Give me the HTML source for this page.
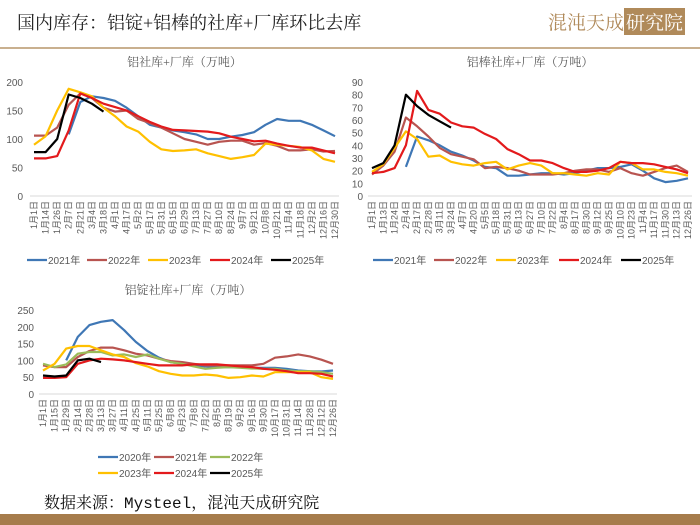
<!DOCTYPE html>
<html><head><meta charset="utf-8">
<style>
body{margin:0;width:700px;height:525px;overflow:hidden;background:#fff;font-family:"Liberation Sans","Noto Sans CJK SC",sans-serif;position:relative}
#title{position:absolute;left:17px;top:9px;font-size:18px;color:#222;font-family:"Liberation Serif","Noto Serif CJK SC",serif}
#hline{position:absolute;left:0;top:47px;width:700px;height:2px;background:#c9b08f}
#logo{position:absolute;left:548px;top:8px;font-size:19px;color:#b08a5a;font-family:"Noto Serif CJK SC",serif}
#logo span{background:#b08a5a;color:#fff;padding:0 2px}
#foot{position:absolute;left:44px;top:490px;font-size:16px;color:#111;font-family:"Liberation Mono","Noto Serif CJK SC",monospace}
#band{position:absolute;left:0;top:514px;width:700px;height:11px;background:#a67c4c}
svg{position:absolute;left:0;top:0}
</style></head><body>
<div id="title">国内库存：铝锭+铝棒的社库+厂库环比去库</div>
<div id="logo">混沌天成<span>研究院</span></div>
<div id="hline"></div>
<svg id="svg" width="700" height="525"></svg>
<div id="foot">数据来源：Mysteel，混沌天成研究院</div>
<div id="band"></div>
<script>
const c1Cats=["1月1日","1月14日","1月26日","2月7日","2月21日","3月4日","3月18日","4月1日","4月17日","5月2日","5月17日","5月31日","6月15日","6月29日","7月13日","7月27日","8月10日","8月24日","9月7日","9月21日","10月8日","10月21日","11月4日","11月18日","12月2日","12月16日","12月30日"];
const c1Ticks=[0,50,100,150,200];
const c1y2021=[null,null,null,108,165,175,172,167,155,140,125,120,115,112,108,100,100,104,107,112,125,135,132,132,125,115,105];
const c1y2022=[106,106,120,160,180,172,155,148,150,135,128,120,110,100,95,90,95,97,97,90,93,88,80,80,82,78,79];
const c1y2023=[90,105,150,188,182,175,155,140,122,113,95,82,79,80,82,75,70,65,68,72,92,90,88,86,80,65,60];
const c1y2024=[66,66,70,115,180,172,162,156,150,140,130,122,116,115,114,113,110,104,100,96,97,92,88,85,85,80,75];
const c1y2025=[77,77,100,178,172,162,148];

const c2Cats=["1月1日","1月13日","1月24日","2月4日","2月17日","2月28日","3月11日","3月24日","4月7日","4月20日","5月5日","5月18日","5月31日","6月13日","6月27日","7月10日","7月22日","8月4日","8月17日","8月30日","9月12日","9月25日","10月10日","10月23日","11月4日","11月17日","11月30日","12月13日","12月26日"];
const c2Ticks=[0,10,20,30,40,50,60,70,80,90];
const c2y2021=[null,null,null,23,47,44,40,35,32,28,23,22,16,16,17,18,18,17,18,20,22,22,23,25,20,14,11,12,14];
const c2y2022=[17,24,35,62,55,47,38,33,31,29,22,23,22,20,17,17,17,18,20,21,21,19,22,18,16,19,22,24,19];
const c2y2023=[19,25,38,51,45,31,32,27,25,24,26,27,21,24,26,24,18,18,17,16,18,17,27,26,21,21,19,18,16];
const c2y2024=[18,19,22,40,83,68,65,58,55,54,49,45,37,33,28,28,26,22,19,19,20,22,27,26,26,25,23,21,18];
const c2y2025=[22,26,40,80,71,64,59,54];

const c3Cats=["1月1日","1月15日","1月29日","2月14日","2月28日","3月13日","3月27日","4月11日","4月25日","5月11日","5月25日","6月8日","6月23日","7月8日","7月22日","8月5日","8月19日","9月2日","9月16日","9月30日","10月17日","10月31日","11月14日","11月28日","12月12日","12月26日"];
const c3Ticks=[0,50,100,150,200,250];
const c3y2020=[null,null,100,170,205,215,220,190,155,128,108,95,90,85,82,80,80,80,78,78,78,75,70,68,67,70];
const c3y2021=[85,80,80,110,128,138,138,130,120,115,105,98,95,90,85,85,85,85,85,90,108,112,118,112,102,90];
const c3y2022=[90,80,88,120,125,125,115,118,110,118,105,95,90,82,75,78,80,78,76,75,75,70,68,68,65,60];
const c3y2023=[70,90,135,143,143,130,118,110,92,82,68,60,55,55,58,55,48,50,55,52,65,65,65,65,50,45];
const c3y2024=[48,48,50,90,100,105,103,100,95,90,85,85,85,88,88,88,85,82,80,75,72,68,62,62,60,52];
const c3y2025=[55,52,55,100,105,95];

const COLA={"2021":"#3f77b5","2022":"#b85450","2023":"#ffc000","2024":"#e31a1c","2025":"#000"};
const COLB={"2020":"#3f77b5","2021":"#b85450","2022":"#9bbb59","2023":"#ffc000","2024":"#e31a1c","2025":"#000"};
const svg=document.getElementById('svg');
const NS="http://www.w3.org/2000/svg";
function mk(t,a,p){const e=document.createElementNS(NS,t);for(const k in a)e.setAttribute(k,a[k]);(p||svg).appendChild(e);return e;}

function chart(o){
  const COL=o.col;
  const g=mk('g',{});
  
  
  const max=o.ticks[o.ticks.length-1];
  const n=o.cats.length;
  const X=i=>o.x0+(o.x1-o.x0)*i/(n-1);
  const Y=v=>o.yb-(o.yb-o.yt)*v/max;
  const t=mk('text',{x:(o.x0+o.x1)/2,y:o.ty,'text-anchor':'middle','font-size':12,fill:'#595959','font-family':'"Liberation Serif","Noto Serif CJK SC",serif'},g);
  t.textContent=o.title;
  
  
  const ax=mk('line',{x1:o.x0-4,x2:o.x1+4,y1:Y(0),y2:Y(0),stroke:'#d9d9d9'},g);
  
  
  o.ticks.forEach(v=>{
    const e=mk('text',{x:o.lx,y:Y(v)+4,'text-anchor':'end','font-size':10,fill:'#595959'},g);
    e.textContent=v;
    
    
  });
  o.cats.forEach((c,i)=>{
    const e=mk('text',{x:0,y:0,'text-anchor':'end','font-size':9,fill:'#595959',transform:`translate(${X(i)+3},${Y(0)+5}) rotate(-90)`},g);
    e.textContent=c;
    
    
  });
  o.series.forEach(s=>{
    let d='';let pen=false;
    s.v.forEach((v,i)=>{if(v==null){pen=false;return;}d+=(pen?'L':'M')+X(i).toFixed(1)+','+Y(v).toFixed(1);pen=true;});
    const p=mk('path',{d:d,fill:'none',stroke:COL[s.k],'stroke-width':2.2,'stroke-linejoin':'round'},g);
    
    
  });
  o.legend.forEach(l=>{
    const lg=mk('g',{},g);
    
    
    mk('line',{x1:l.x,x2:l.x+20,y1:l.y,y2:l.y,stroke:COL[l.k],'stroke-width':2.2},lg);
    const e=mk('text',{x:l.x+21,y:l.y+4,'font-size':10,fill:'#595959'},lg);
    e.textContent=l.k+'年';
  });
}
chart({name:'chart-aluminum-total',col:COLA,title:'铝社库+厂库（万吨）',ty:66,x0:34,x1:335,yt:82,yb:196,lx:23,ticks:c1Ticks,cats:c1Cats,
 series:[{k:'2021',v:c1y2021},{k:'2022',v:c1y2022},{k:'2023',v:c1y2023},{k:'2024',v:c1y2024},{k:'2025',v:c1y2025}],
 legend:[{k:'2021',x:27,y:260},{k:'2022',x:87,y:260},{k:'2023',x:148,y:260},{k:'2024',x:210,y:260},{k:'2025',x:271,y:260}]});
chart({name:'chart-aluminum-bar',col:COLA,title:'铝棒社库+厂库（万吨）',ty:66,x0:372,x1:688,yt:82,yb:196,lx:363,ticks:c2Ticks,cats:c2Cats,
 series:[{k:'2021',v:c2y2021},{k:'2022',v:c2y2022},{k:'2023',v:c2y2023},{k:'2024',v:c2y2024},{k:'2025',v:c2y2025}],
 legend:[{k:'2021',x:373,y:260},{k:'2022',x:434,y:260},{k:'2023',x:496,y:260},{k:'2024',x:559,y:260},{k:'2025',x:621,y:260}]});
chart({name:'chart-aluminum-ingot',col:COLB,title:'铝锭社库+厂库（万吨）',ty:294,x0:43,x1:333,yt:310,yb:394,lx:34,ticks:c3Ticks,cats:c3Cats,
 series:[{k:'2020',v:c3y2020},{k:'2021',v:c3y2021},{k:'2022',v:c3y2022},{k:'2023',v:c3y2023},{k:'2024',v:c3y2024},{k:'2025',v:c3y2025}],
 legend:[{k:'2020',x:98,y:457},{k:'2021',x:154,y:457},{k:'2022',x:210,y:457},{k:'2023',x:98,y:473},{k:'2024',x:154,y:473},{k:'2025',x:210,y:473}]});
</script>
</body></html>
